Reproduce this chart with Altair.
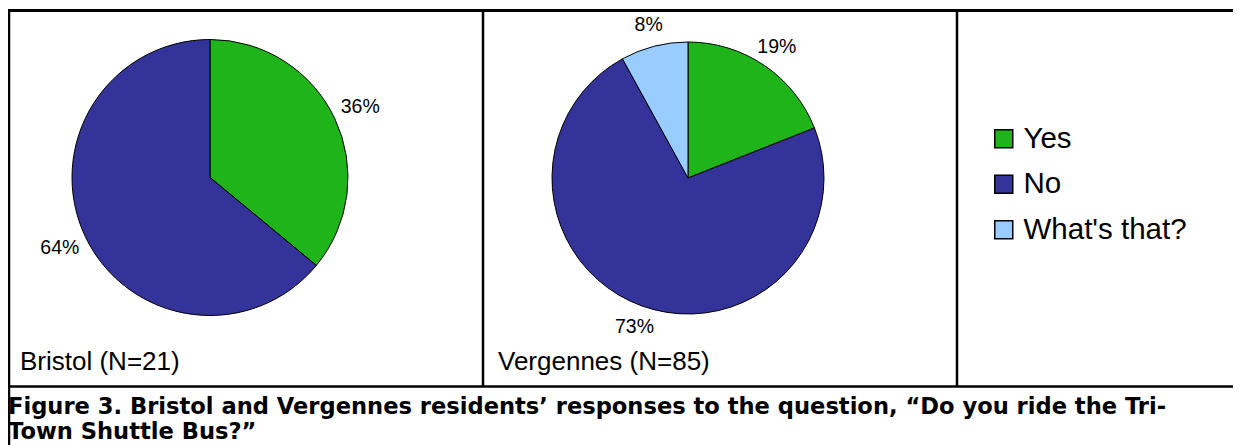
import altair as alt
import pandas as pd

# ---- data -------------------------------------------------------------
responses = ["Yes", "No", "What's that?"]
colors = ["#1FB51A", "#333399", "#99CCFF"]

bristol_responses = ["Yes", "No"]
bristol_pct = [36, 64]

vergennes_responses = ["Yes", "No", "What's that?"]
vergennes_pct = [19, 73, 8]

panel_titles = ["Bristol (N=21)", "Vergennes (N=85)"]
caption_lines = [
    "Figure 3. Bristol and Vergennes residents\u2019 responses to the question, \u201cDo you ride the Tri-",
    "Town Shuttle Bus?\u201d",
]

FONT = "Liberation Sans, Arial, sans-serif"
CAP_FONT = "DejaVu Sans, Liberation Sans, sans-serif"
W, H = 1225, 437


def frame(resp, pct):
    return pd.DataFrame({
        "response": resp,
        "pct": pct,
        "ord": [responses.index(r) for r in resp],
        "label": [f"{p}%" for p in pct],
    })


legend = alt.Legend(
    orient="none", legendX=981, legendY=116, title=None,
    symbolType="square", symbolSize=324, symbolStrokeColor="black",
    symbolStrokeWidth=1.5, symbolOpacity=1,
    labelFont=FONT, labelFontSize=29.5, labelColor="black",
    labelOffset=5, rowPadding=14.5, padding=0, labelLimit=400,
)
color = alt.Color("response:N", scale=alt.Scale(domain=responses, range=colors),
                  legend=legend)


def pie(df, cx, cy, r, label_r):
    base = alt.Chart(df).encode(
        theta=alt.Theta("pct:Q", stack=True),
        order=alt.Order("ord:Q", sort="ascending"),
        x=alt.value(cx), y=alt.value(cy),
    )
    arc = base.mark_arc(radius=r, stroke="black", strokeWidth=1).encode(color=color)
    txt = base.mark_text(radius=label_r, font=FONT, fontSize=19.5, color="black").encode(
        text="label:N", detail="response:N")
    return [arc, txt]


one = pd.DataFrame({"k": [0]})


def rule(x, x2, y, y2, w):
    return alt.Chart(one).mark_rule(color="black", strokeWidth=w).encode(
        x=alt.value(x), x2=alt.value(x2), y=alt.value(y), y2=alt.value(y2))


def label(text, x, y, size, font=FONT, bold=False, baseline="middle", line_height=None):
    kw = dict(font=font, fontSize=size, fontWeight="bold" if bold else "normal",
              align="left", baseline=baseline, color="black")
    if line_height is not None:
        kw["lineHeight"] = line_height
    return alt.Chart(one).mark_text(**kw).encode(
        text=alt.value(text), x=alt.value(x), y=alt.value(y))


layers = []
layers += pie(frame(bristol_responses, bristol_pct), 202, 169.5, 138, 166)
layers += pie(frame(vergennes_responses, vergennes_pct), 680, 170, 136, 158)
layers += [
    rule(0, W, 2.5, 2.5, 3),
    rule(1, 1, 1, H, 2.5),
    rule(475, 475, 2.5, 378.5, 2.5),
    rule(949, 949, 2.5, 378.5, 2.5),
    rule(0, W, 378.5, 378.5, 2.5),
    label(panel_titles[0], 12, 354, 26),
    label(panel_titles[1], 490, 354, 26),
    label(caption_lines, 0, 406, 22.6, font=CAP_FONT, bold=True,
          baseline="alphabetic", line_height=24.5),
]

chart = alt.layer(*layers).properties(
    width=W, height=H, padding=0,
    autosize=alt.AutoSizeParams(type="none"),
    background="white",
).configure_view(stroke=None)

chart.save("out.html", embed_options={"renderer": "svg", "actions": False})
